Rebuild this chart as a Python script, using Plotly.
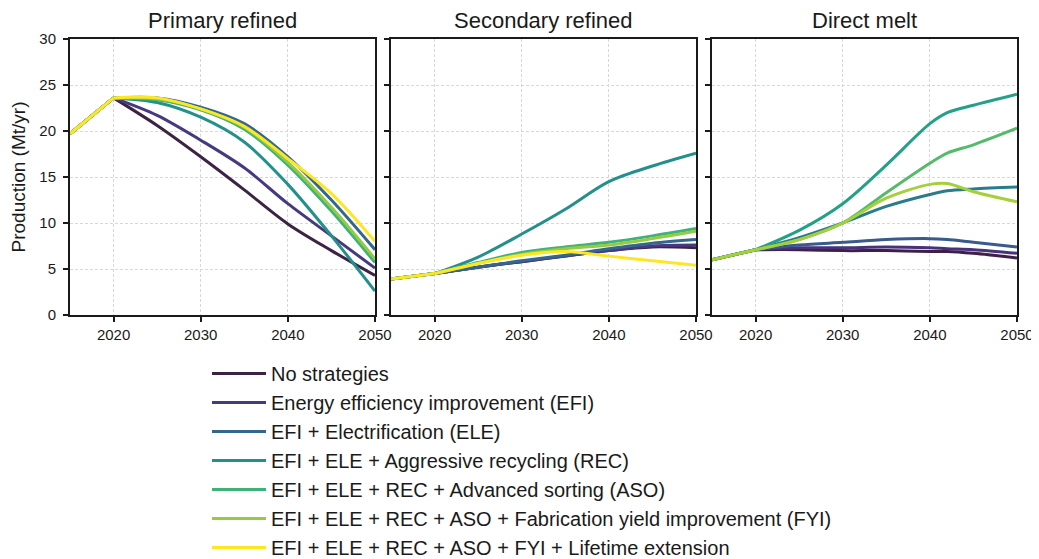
import plotly.graph_objects as go

years = [2015, 2020, 2025, 2030, 2035, 2040, 2045, 2050]
years_melt = [2015, 2020, 2025, 2030, 2035, 2040, 2042, 2045, 2050]

scenarios = [
    "No strategies",
    "Energy efficiency improvement (EFI)",
    "EFI + Electrification (ELE)",
    "EFI + ELE + Aggressive recycling (REC)",
    "EFI + ELE + REC + Advanced sorting (ASO)",
    "EFI + ELE + REC + ASO + Fabrication yield improvement (FYI)",
    "EFI + ELE + REC + ASO + FYI + Lifetime extension",
]

panel_titles = ["Primary refined", "Secondary refined", "Direct melt"]

# Primary refined (Mt/yr)
primary_no  = [19.7, 23.6, 20.6, 17.2, 13.6, 9.9, 7.0, 4.3]
primary_efi = [19.7, 23.6, 21.7, 19.0, 16.0, 12.1, 8.6, 5.1]
primary_ele = [19.7, 23.6, 23.6, 22.6, 20.8, 17.2, 12.5, 7.1]
primary_rec = [19.7, 23.6, 23.1, 21.5, 18.8, 14.2, 8.6, 2.6]
primary_aso = [19.7, 23.6, 23.4, 22.3, 20.2, 16.3, 11.3, 5.7]
primary_fyi = [19.7, 23.6, 23.5, 22.4, 20.4, 16.6, 11.7, 6.1]
primary_le  = [19.7, 23.6, 23.6, 22.4, 20.5, 17.0, 13.2, 8.0]

# Secondary refined (Mt/yr)
secondary_no  = [3.9, 4.5, 5.2, 5.8, 6.4, 7.0, 7.4, 7.3]
secondary_efi = [3.9, 4.5, 5.2, 5.8, 6.4, 7.0, 7.5, 7.6]
secondary_ele = [3.9, 4.5, 5.2, 5.9, 6.5, 7.2, 7.8, 8.2]
secondary_rec = [3.9, 4.5, 6.3, 8.8, 11.5, 14.5, 16.2, 17.6]
secondary_aso = [3.9, 4.5, 5.7, 6.8, 7.4, 7.9, 8.6, 9.4]
secondary_fyi = [3.9, 4.5, 5.6, 6.6, 7.2, 7.6, 8.3, 9.1]
secondary_le  = [3.9, 4.5, 5.6, 6.5, 6.9, 6.4, 5.9, 5.4]

# Direct melt (Mt/yr)
melt_no  = [6.0, 7.1, 7.1, 7.0, 7.0, 6.9, 6.9, 6.7, 6.2]
melt_efi = [6.0, 7.1, 7.3, 7.3, 7.4, 7.3, 7.2, 7.1, 6.7]
melt_ele = [6.0, 7.1, 7.6, 7.9, 8.2, 8.3, 8.2, 7.9, 7.4]
melt_rec = [6.0, 7.1, 8.4, 10.0, 11.8, 13.1, 13.5, 13.7, 13.9]
melt_aso = [6.0, 7.1, 9.2, 12.1, 16.3, 20.8, 22.0, 22.8, 24.0]
melt_fyi = [6.0, 7.1, 8.2, 10.0, 13.3, 16.5, 17.6, 18.5, 20.3]
melt_le  = [6.0, 7.1, 8.2, 10.0, 12.7, 14.2, 14.3, 13.4, 12.3]

primary = [primary_no, primary_efi, primary_ele, primary_rec, primary_aso, primary_fyi, primary_le]
secondary = [secondary_no, secondary_efi, secondary_ele, secondary_rec, secondary_aso, secondary_fyi, secondary_le]
melt = [melt_no, melt_efi, melt_ele, melt_rec, melt_aso, melt_fyi, melt_le]

colors = ["#3d2343", "#47397f", "#33678d", "#23908b", "#3fb17a", "#95cb42", "#fde725"]
colors_melt = ["#3d1f47", "#48327c", "#395b8c", "#2a7c8c", "#22a187", "#55bb6b", "#a6d03a"]

fig = go.Figure()
panels = [(years, primary, colors), (years, secondary, colors), (years_melt, melt, colors_melt)]
for p, (yrs, data, cols) in enumerate(panels):
    xa = "x" if p == 0 else f"x{p+1}"
    ya = "y" if p == 0 else f"y{p+1}"
    for i, name in enumerate(scenarios):
        vals = data[i]
        # historical segment (straight)
        fig.add_trace(go.Scatter(
            x=yrs[:2], y=vals[:2], mode="lines", xaxis=xa, yaxis=ya,
            line=dict(color=cols[i], width=3), showlegend=False,
            legendgroup=name, hoverinfo="skip"))
        # projection segment (smooth)
        fig.add_trace(go.Scatter(
            x=yrs[1:], y=vals[1:], mode="lines", xaxis=xa, yaxis=ya,
            line=dict(color=cols[i], width=3, shape="spline", smoothing=0.9),
            name=name, legendgroup=name,
            showlegend=(p == 0)))

# page body adds an 8px offset; figure coordinates below are screen minus 8
W, H = 1031, 551
xdoms = [(62, 367), (383, 688), (704, 1009)]
ydom = [1 - 307 / H, 1 - 31 / H]

font_family = "Liberation Sans, Arial, sans-serif"
axis_common = dict(
    showline=True, mirror=True, linecolor="#1a1a1a", linewidth=2,
    ticks="outside", ticklen=5, tickwidth=1.5, tickcolor="#1a1a1a",
    showgrid=True, gridcolor="#d8d8d8", gridwidth=0.8, griddash="3px,2px",
    zeroline=False, automargin=False,
    tickfont=dict(family=font_family, size=15, color="#1a1a1a"),
)

layout = dict(
    width=W, height=H,
    margin=dict(l=0, r=0, t=0, b=0, autoexpand=False),
    paper_bgcolor="white", plot_bgcolor="white",
    font=dict(family=font_family, color="#1a1a1a"),
    legend=dict(
        x=199 / W, y=1 - 346 / H, xanchor="left", yanchor="top",
        font=dict(family=font_family, size=20, color="#1a1a1a"),
        bgcolor="rgba(0,0,0,0)", tracegroupgap=0, itemwidth=54,
    ),
    annotations=[],
)
for p, (x0, x1) in enumerate(xdoms):
    k = "" if p == 0 else str(p + 1)
    layout[f"xaxis{k}"] = dict(
        axis_common, domain=[x0 / W, x1 / W], range=[2015, 2050],
        tickvals=[2020, 2030, 2040, 2050], anchor=f"y{k}")
    yax = dict(axis_common, domain=ydom, range=[0, 30],
               tickvals=[0, 5, 10, 15, 20, 25, 30], anchor=f"x{k}",
               showticklabels=(p == 0), ticklabelstandoff=4)
    if p == 0:
        yax["title"] = dict(text="Production (Mt/yr)",
                            font=dict(family=font_family, size=19, color="#1a1a1a"),
                            standoff=12)
    layout[f"yaxis{k}"] = yax
    layout["annotations"].append(dict(
        text=panel_titles[p], x=(x0 + x1) / 2 / W, y=1 - 12 / H,
        xref="paper", yref="paper", showarrow=False,
        xanchor="center", yanchor="middle",
        font=dict(family=font_family, size=22, color="#1a1a1a")))

fig.update_layout(**layout)
fig.write_html("out.html")
